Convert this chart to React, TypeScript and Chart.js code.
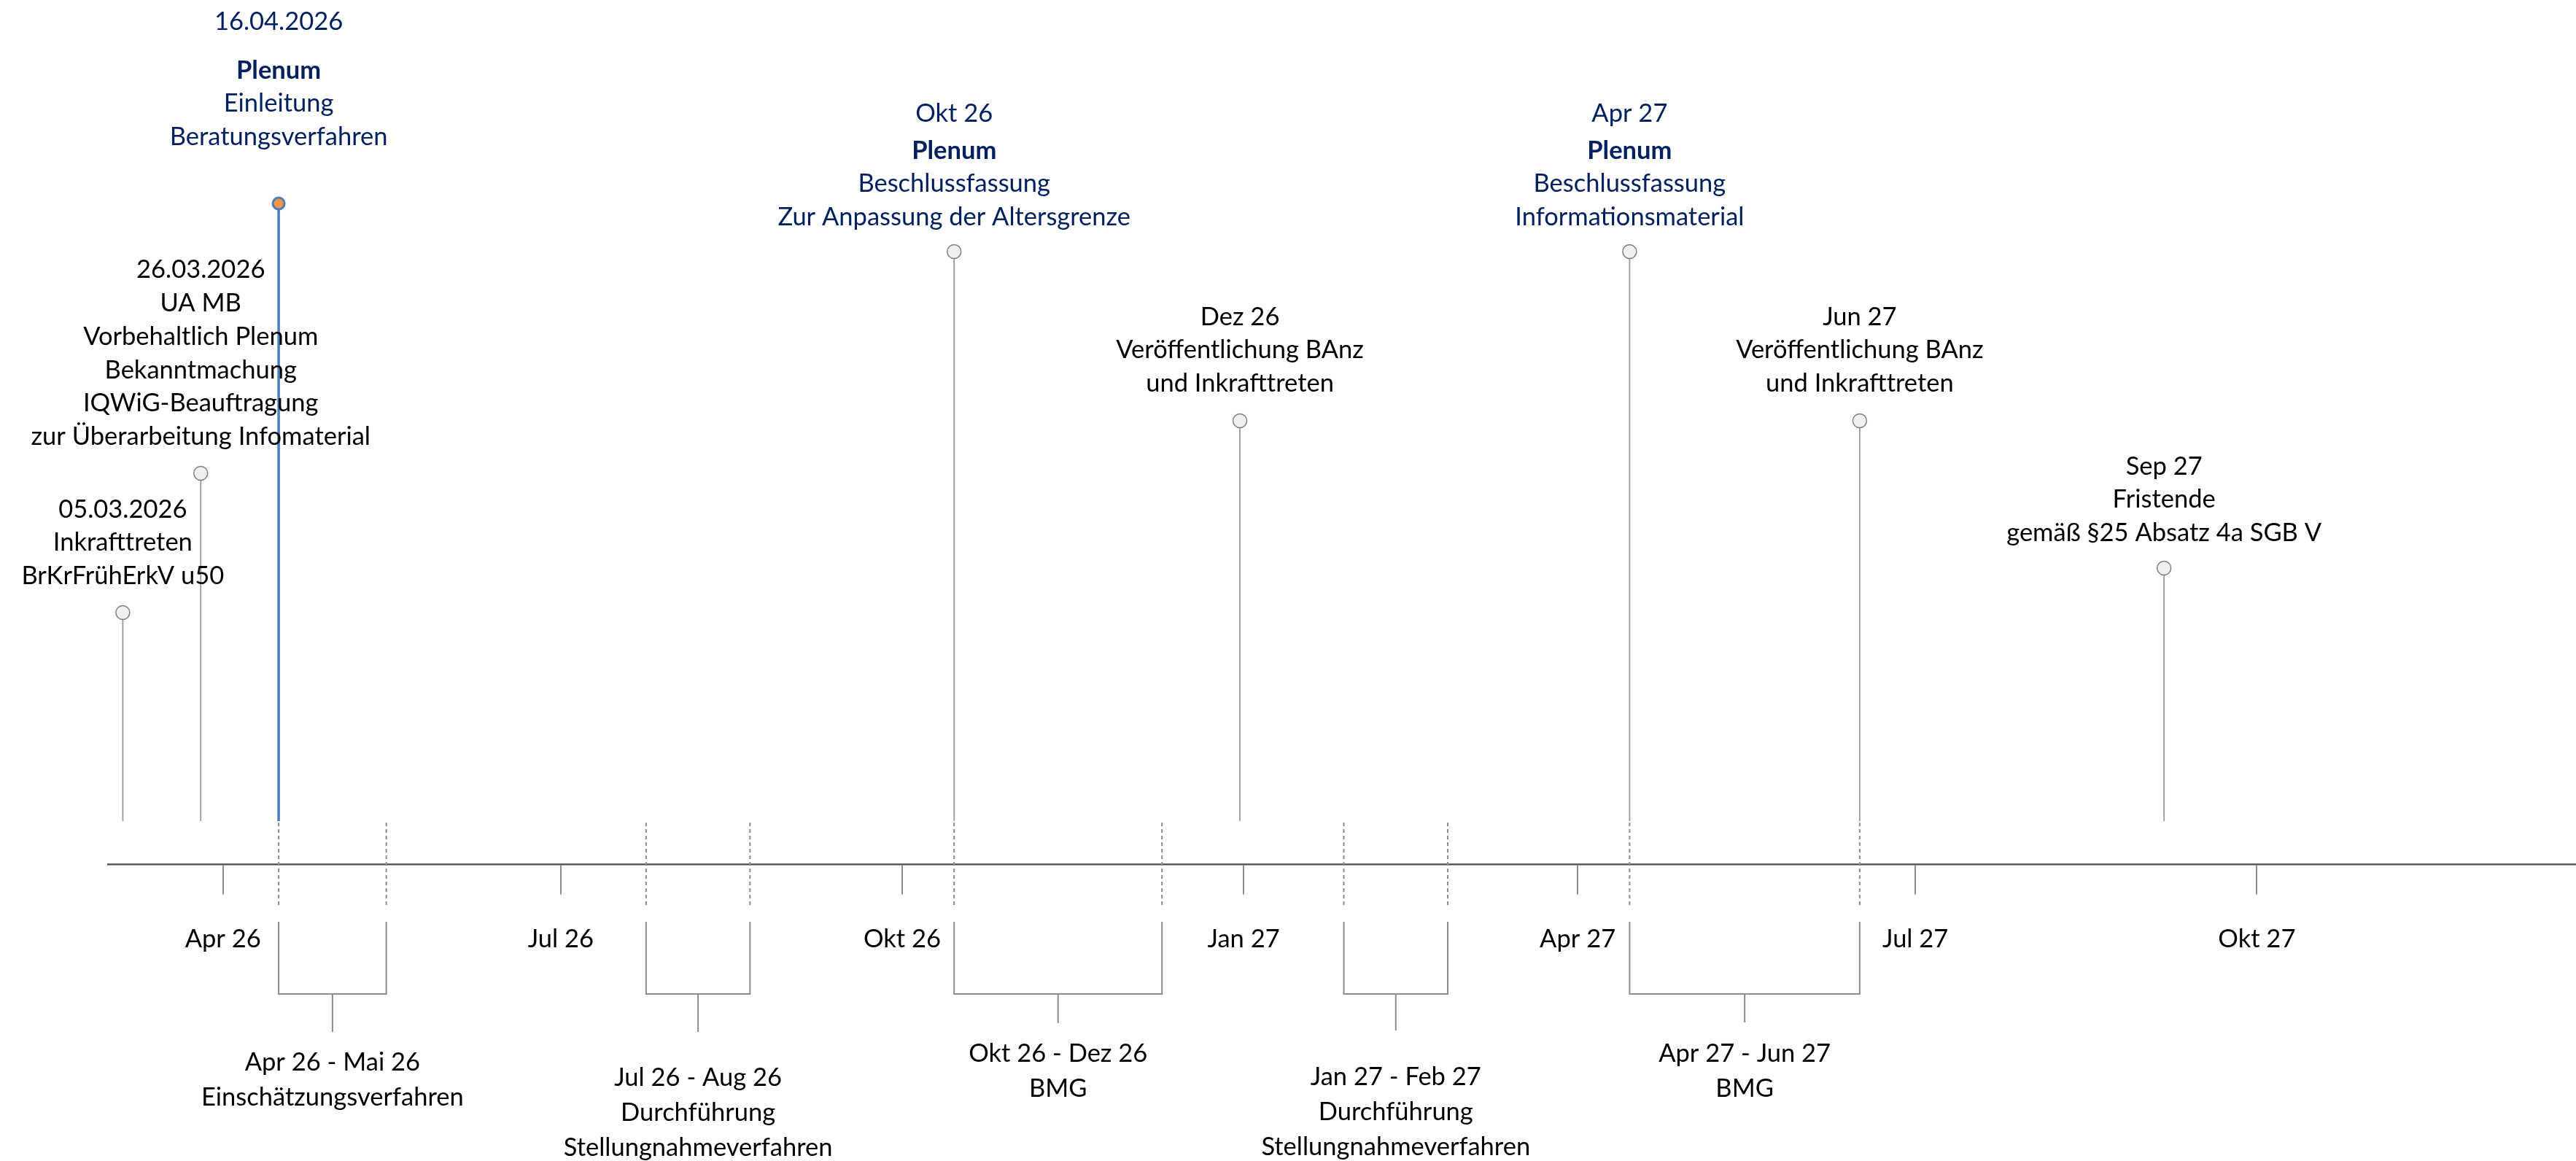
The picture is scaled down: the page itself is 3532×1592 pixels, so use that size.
import React, { useEffect, useRef } from 'react';
import { Chart, registerables } from 'chart.js';

Chart.register(...registerables);

const DAY_MS = 86400000;
const day = (s: string) => Date.UTC(+s.slice(0, 4), +s.slice(5, 7) - 1, +s.slice(8, 10)) / DAY_MS;

// ---------- data ----------
const axisStart = '2026-03-01';
const axisEnd = '2027-12-26';
const tickDates = ['2026-04-01', '2026-07-01', '2026-10-01', '2027-01-01', '2027-04-01', '2027-07-01', '2027-10-01'];
const tickLabels = ['Apr 26', 'Jul 26', 'Okt 26', 'Jan 27', 'Apr 27', 'Jul 27', 'Okt 27'];

const eventDates = ['2026-03-05', '2026-03-26', '2026-04-16', '2026-10-15', '2026-12-31', '2027-04-15', '2027-06-16', '2027-09-06'];
const eventLevels = [345, 536, 906, 840, 608, 840, 608, 406];
const eventTexts = [
  ['05.03.2026', 'Inkrafttreten', 'BrKrFrühErkV u50'],
  ['26.03.2026', 'UA MB', 'Vorbehaltlich Plenum', 'Bekanntmachung', 'IQWiG-Beauftragung', 'zur Überarbeitung Infomaterial'],
  ['16.04.2026', 'Plenum', 'Einleitung', 'Beratungsverfahren'],
  ['Okt 26', 'Plenum', 'Beschlussfassung', 'Zur Anpassung der Altersgrenze'],
  ['Dez 26', 'Veröffentlichung BAnz', 'und Inkrafttreten'],
  ['Apr 27', 'Plenum', 'Beschlussfassung', 'Informationsmaterial'],
  ['Jun 27', 'Veröffentlichung BAnz', 'und Inkrafttreten'],
  ['Sep 27', 'Fristende', 'gemäß §25 Absatz 4a SGB V'],
];
const eventIsPlenum = [false, false, true, true, false, true, false, false];
const currentEvent = 2;

const rangeStarts = ['2026-04-16', '2026-07-24', '2026-10-15', '2027-01-28', '2027-04-15'];
const rangeEnds = ['2026-05-15', '2026-08-21', '2026-12-10', '2027-02-25', '2027-06-16'];
const rangeTexts = [
  ['Apr 26 - Mai 26', 'Einschätzungsverfahren'],
  ['Jul 26 - Aug 26', 'Durchführung', 'Stellungnahmeverfahren'],
  ['Okt 26 - Dez 26', 'BMG'],
  ['Jan 27 - Feb 27', 'Durchführung', 'Stellungnahmeverfahren'],
  ['Apr 27 - Jun 27', 'BMG'],
];

// ---------- styles ----------
const NAVY = '#002060';
const BLACK = '#000000';
const GRAY = '#8C8C8C';
const BLUE = '#4A7EBB';
const ORANGE = '#F79646';
const FONT = 'Lato';
const FONT_SIZE = 34.5;
const LINE_TOP = 45.8;
const LINE_BOTTOM = 48;
const Y_MIN = -407;
const Y_MAX = 1185;
const STEM_BASE = 59;
const DASH_TOP = 57;
const DASH_BOTTOM = -58;
const BRACKET_TOP = -79;
const BRACKET_BOTTOM = -178;
const eventLabelLift = [50, 50, 91, 47, 51, 47, 51, 48];
const eventDateGap = [0, 0, 21, 5, 0, 5, 0, 0];
const rangeDepth = [-230, -230, -218, -228, -217];
const rangeLabelDrop = [42, 63, 42, 64, 43];

const labelPlugin = {
  id: 'timelineLabels',
  afterDatasetsDraw(chart: any) {
    const { ctx } = chart;
    const xs = chart.scales.x;
    const ys = chart.scales.y;
    ctx.save();
    ctx.textAlign = 'center';
    ctx.textBaseline = 'middle';
    eventTexts.forEach((lines, i) => {
      const px = xs.getPixelForValue(day(eventDates[i]));
      let py = ys.getPixelForValue(eventLevels[i]) - eventLabelLift[i];
      ctx.fillStyle = eventIsPlenum[i] ? NAVY : BLACK;
      for (let j = lines.length - 1; j >= 0; j--) {
        const bold = eventIsPlenum[i] && lines[j] === 'Plenum';
        ctx.font = `${bold ? 'bold ' : ''}${FONT_SIZE}px ${FONT}`;
        ctx.fillText(lines[j], px, py);
        py -= LINE_TOP;
        if (j === 1) py -= eventDateGap[i];
      }
    });
    ctx.fillStyle = BLACK;
    ctx.font = `${FONT_SIZE}px ${FONT}`;
    rangeTexts.forEach((lines, i) => {
      const mid = (day(rangeStarts[i]) + day(rangeEnds[i])) / 2;
      const px = xs.getPixelForValue(mid);
      let py = ys.getPixelForValue(rangeDepth[i]) + rangeLabelDrop[i];
      lines.forEach((t) => {
        ctx.fillText(t, px, py);
        py += LINE_BOTTOM;
      });
    });
    ctx.restore();
  },
};

export default function App() {
  const ref = useRef<HTMLCanvasElement | null>(null);

  useEffect(() => {
    if (!ref.current) return;
    const lineDs = (data: any[], color: string, width: number, dash: number[] = []) => ({
      type: 'scatter' as const,
      data,
      showLine: true,
      borderColor: color,
      borderWidth: width,
      borderDash: dash,
      pointRadius: 0,
      pointHoverRadius: 0,
      tension: 0,
      fill: false,
      order: 1,
    });

    const datasets: any[] = [];
    datasets.push({
      type: 'scatter',
      data: eventDates.map((d, i) => ({ x: day(d), y: eventLevels[i] })),
      pointRadius: eventDates.map((_, i) => (i === currentEvent ? 8 : 9.5)),
      pointBackgroundColor: eventDates.map((_, i) => (i === currentEvent ? ORANGE : '#F0F0F0')),
      pointBorderColor: eventDates.map((_, i) => (i === currentEvent ? BLUE : '#7F7F7F')),
      pointBorderWidth: eventDates.map((_, i) => (i === currentEvent ? 3 : 1.5)),
      showLine: false,
      order: 0,
    });
    eventDates.forEach((d, i) => {
      datasets.push(
        lineDs(
          [
            { x: day(d), y: STEM_BASE },
            { x: day(d), y: eventLevels[i] },
          ],
          i === currentEvent ? BLUE : '#999999',
          i === currentEvent ? 3.5 : 1.8
        )
      );
    });
    rangeStarts.forEach((s, i) => {
      const a = day(s);
      const b = day(rangeEnds[i]);
      const m = (a + b) / 2;
      datasets.push(lineDs([{ x: a, y: DASH_TOP }, { x: a, y: DASH_BOTTOM }], GRAY, 2, [5, 4]));
      datasets.push(lineDs([{ x: b, y: DASH_TOP }, { x: b, y: DASH_BOTTOM }], GRAY, 2, [5, 4]));
      datasets.push(
        lineDs(
          [
            { x: a, y: BRACKET_TOP },
            { x: a, y: BRACKET_BOTTOM },
            { x: m, y: BRACKET_BOTTOM },
            { x: m, y: rangeDepth[i] },
            { x: m, y: BRACKET_BOTTOM },
            { x: b, y: BRACKET_BOTTOM },
            { x: b, y: BRACKET_TOP },
          ],
          GRAY,
          2
        )
      );
    });

    const chart = new Chart(ref.current, {
      type: 'scatter',
      data: { datasets },
      plugins: [labelPlugin],
      options: {
        animation: false,
        responsive: true,
        maintainAspectRatio: false,
        events: [],
        layout: { autoPadding: false, padding: { left: 148, right: 0, top: 0, bottom: 0 } },
        plugins: { legend: { display: false }, tooltip: { enabled: false } },
        scales: {
          x: {
            type: 'linear',
            position: { y: 0 } as any,
            min: day(axisStart),
            max: day(axisEnd),
            afterBuildTicks: (scale: any) => {
              scale.ticks = tickDates.map((d) => ({ value: day(d) }));
            },
            grid: {
              drawOnChartArea: false,
              drawTicks: true,
              tickLength: 40,
              color: GRAY,
              lineWidth: 2,
            },
            border: { display: true, color: '#595959', width: 2.5 },
            ticks: {
              autoSkip: false,
              maxRotation: 0,
              minRotation: 0,
              padding: 42,
              color: BLACK,
              font: { family: FONT, size: FONT_SIZE },
              callback: (_v: any, i: number) => tickLabels[i],
            },
          },
          y: {
            type: 'linear',
            display: false,
            min: Y_MIN,
            max: Y_MAX,
          },
        },
      },
    });
    return () => chart.destroy();
  }, []);

  return (
    <div style={{ position: 'fixed', left: 0, top: 0, width: '100vw', height: '100vh', background: '#fff' }}>
      <canvas ref={ref} />
    </div>
  );
}
